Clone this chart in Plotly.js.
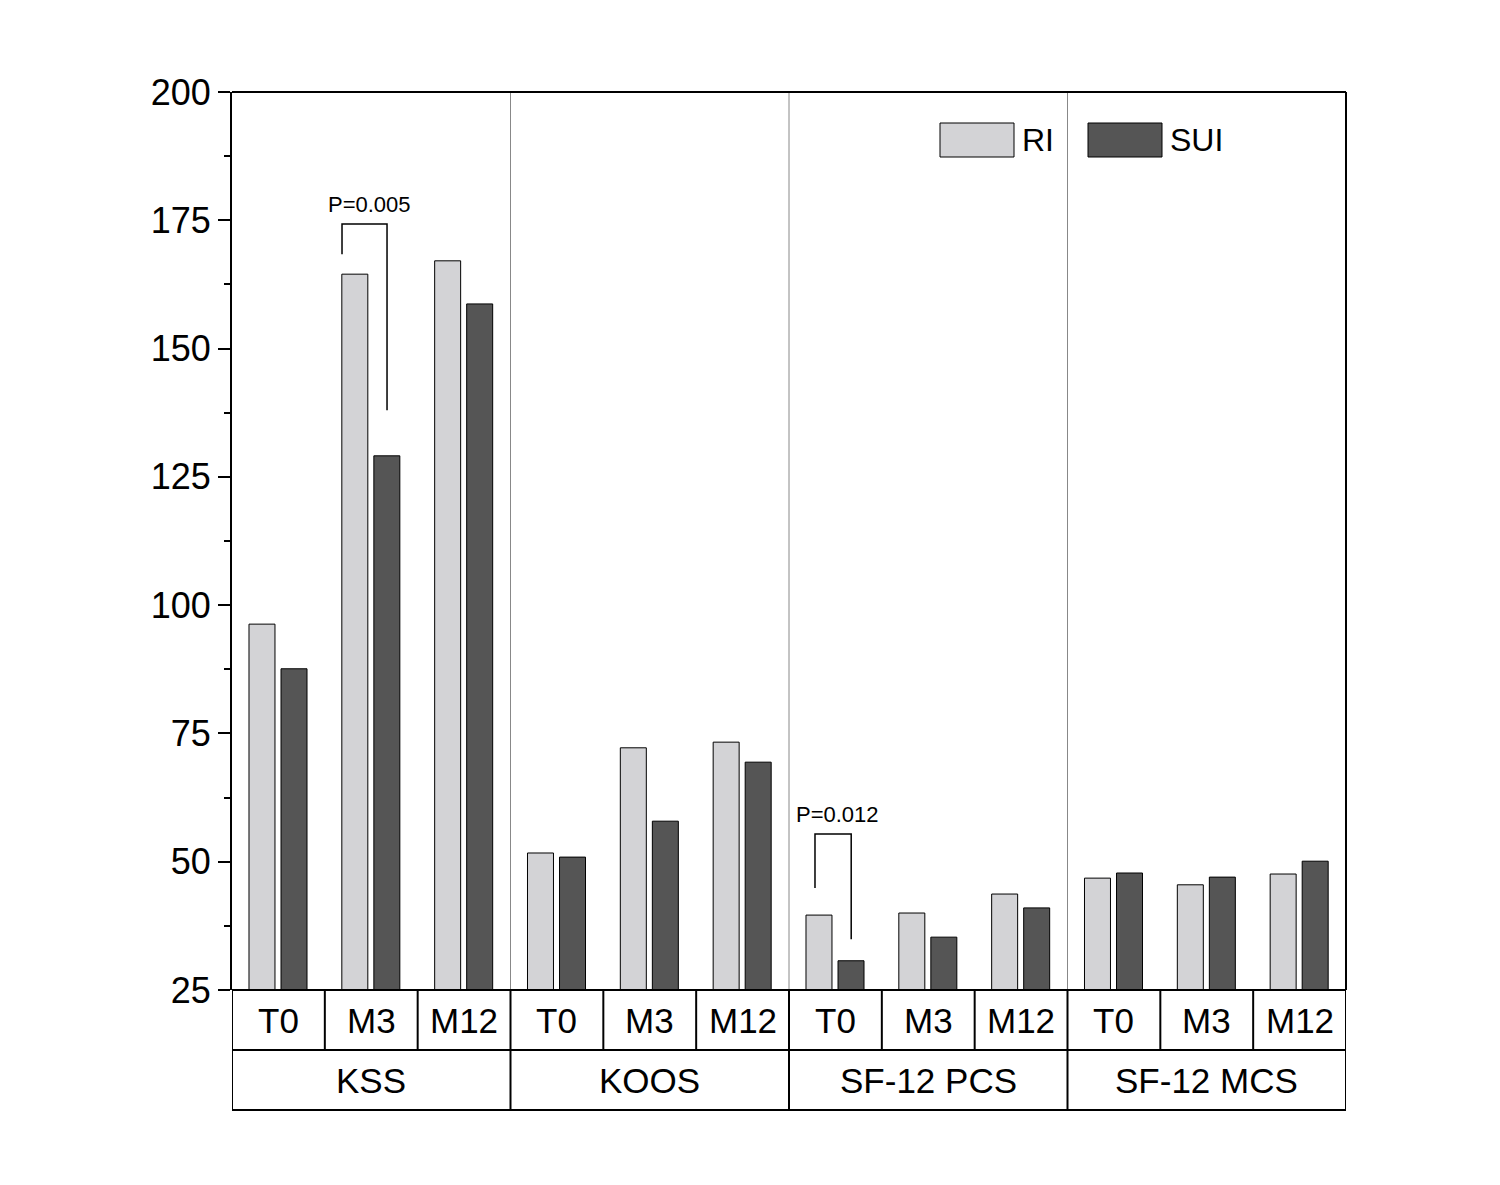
<!DOCTYPE html>
<html>
<head>
<script src="https://cdn.plot.ly/plotly-3.0.1.min.js"></script>
<style>body{margin:0;background:#fff}</style>
</head>
<body>
<div id="graph" style="width:1500px;height:1185px"></div>
<script>
// scores by group / timepoint
const groups = ['KSS', 'KOOS', 'SF-12 PCS', 'SF-12 MCS'];
const times = ['T0', 'M3', 'M12'];
const riValues = [96.3, 164.5, 167.1, 51.7, 72.2, 73.3, 39.6, 40.0, 43.7, 46.8, 45.5, 47.6];
const suiValues = [87.6, 129.1, 158.7, 50.9, 57.9, 69.4, 30.7, 35.3, 41.0, 47.8, 47.0, 50.1];
const yTicks = [25, 50, 75, 100, 125, 150, 175, 200];

const idx = riValues.map((v, i) => i);
const font = 'Liberation Sans, Arial, sans-serif';

const ri = {
    x: idx.map(i => i - 0.177), y: riValues, type: 'bar', width: 0.28, name: 'RI',
    marker: {color: '#d3d3d6', line: {color: '#000', width: 1}}
};
const sui = {
    x: idx.map(i => i + 0.168), y: suiValues, type: 'bar', width: 0.28, name: 'SUI',
    marker: {color: '#555555', line: {color: '#000', width: 1}}
};

const shapes = [];
const annotations = [];
const rowH = 60 / 898;
// group separators in plot
[2.5, 5.5, 8.5].forEach(x => shapes.push({type: 'line', xref: 'x', yref: 'paper', x0: x, x1: x, y0: 0, y1: 1, line: {color: '#888', width: 1}}));
// frame
shapes.push({type: 'line', xref: 'paper', yref: 'paper', x0: 0, x1: 1, y0: 1, y1: 1, line: {color: '#000', width: 2}});
shapes.push({type: 'line', xref: 'paper', yref: 'paper', x0: 1, x1: 1, y0: 0, y1: 1, line: {color: '#000', width: 2}});
// table below
[0, -rowH, -2 * rowH].forEach(y => shapes.push({type: 'line', xref: 'paper', yref: 'paper', x0: 0, x1: 1, y0: y, y1: y, line: {color: '#000', width: 2}}));
for (let i = 0; i <= 12; i++) {
    const full = i % 3 === 0;
    shapes.push({type: 'line', xref: 'x', yref: 'paper', x0: i - 0.5, x1: i - 0.5, y0: full ? -2 * rowH : -rowH, y1: 0, line: {color: '#000', width: 2}});
    if (i < 12) annotations.push({xref: 'x', yref: 'paper', x: i, y: -rowH / 2, xanchor: 'center', yanchor: 'middle', text: times[i % 3], showarrow: false, font: {family: font, size: 35, color: '#000'}});
}
groups.forEach((g, j) => annotations.push({xref: 'x', yref: 'paper', x: 3 * j + 1, y: -1.5 * rowH, xanchor: 'center', yanchor: 'middle', text: g, showarrow: false, font: {family: font, size: 35, color: '#000'}}));

// p-value brackets
function bracket(x0, x1, yl, yt, yr, label) {
    shapes.push({type: 'path', xref: 'x', yref: 'y', path: `M${x0},${yl} L${x0},${yt} L${x1},${yt} L${x1},${yr}`, line: {color: '#000', width: 1.5}});
    annotations.push({xref: 'x', yref: 'y', x: (x0 + x1) / 2 + 0.05, y: yt + 1, xanchor: 'center', yanchor: 'bottom', text: label, showarrow: false, font: {family: font, size: 22, color: '#000'}});
}
bracket(0.685, 1.17, 168.4, 174.3, 138.0, 'P=0.005');
bracket(5.78, 6.17, 44.9, 55.4, 34.9, 'P=0.012');

// legend
[['RI', '#d3d3d6', 940], ['SUI', '#555555', 1088]].forEach(([t, c, px]) => {
    const x0 = (px - 232) / 1114, x1 = (px + 74 - 232) / 1114;
    shapes.push({type: 'rect', xref: 'paper', yref: 'paper', x0: x0, x1: x1, y0: 1 - 65 / 898, y1: 1 - 31 / 898, fillcolor: c, line: {color: '#000', width: 1}});
    annotations.push({xref: 'paper', yref: 'paper', x: x1 + 6 / 1114, y: 1 - 48 / 898, xanchor: 'left', yanchor: 'middle', text: t, showarrow: false, font: {family: font, size: 32, color: '#000'}});
});

const layout = {
    width: 1500, height: 1185,
    margin: {l: 232, r: 154, t: 92, b: 195},
    showlegend: false,
    barmode: 'overlay',
    paper_bgcolor: '#fff', plot_bgcolor: '#fff',
    xaxis: {range: [-0.5, 11.5], showticklabels: false, showgrid: false, zeroline: false, ticks: ''},
    yaxis: {
        range: [25, 200], tickvals: yTicks, ticks: 'outside', ticklen: 12, tickwidth: 2, tickcolor: '#000',
        showline: true, linecolor: '#000', linewidth: 2, showgrid: false, zeroline: false,
        tickfont: {family: font, size: 36, color: '#000'},
        minor: {dtick: 12.5, ticks: 'outside', ticklen: 6, tickwidth: 2, tickcolor: '#000'}
    },
    shapes: shapes,
    annotations: annotations
};

Plotly.newPlot('graph', [ri, sui], layout, {staticPlot: true});
</script>
</body>
</html>
